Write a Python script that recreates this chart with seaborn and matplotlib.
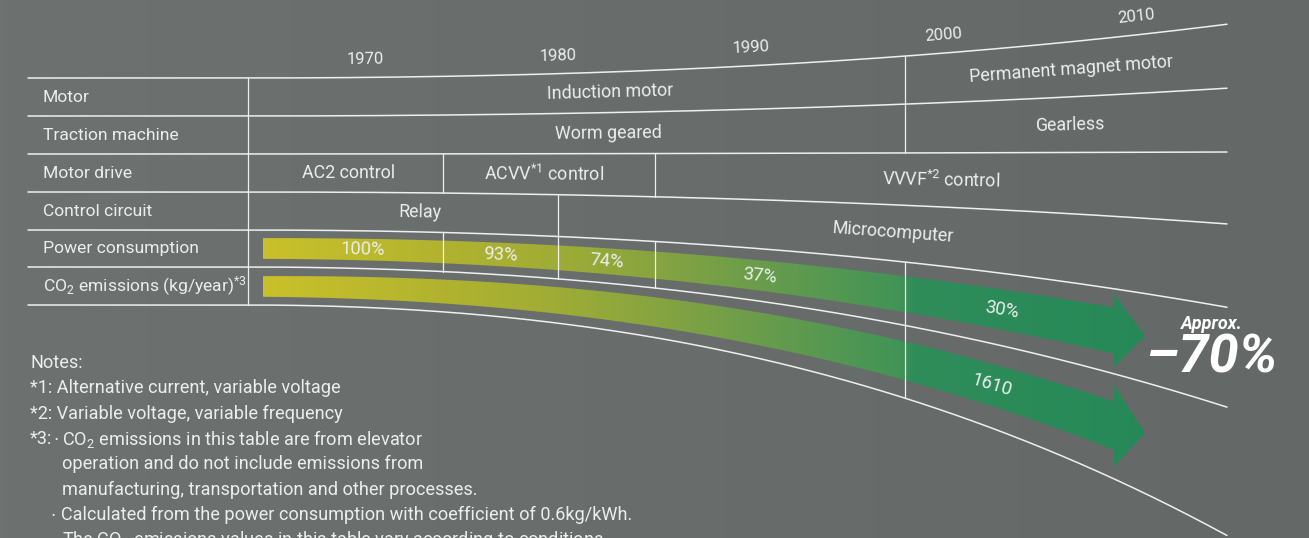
import numpy as np
import matplotlib
matplotlib.use("Agg")
import matplotlib.pyplot as plt
import seaborn as sns
from matplotlib.patches import Polygon
from matplotlib.colors import LinearSegmentedColormap

# ------------------------------------------------------------------ data
years = [1970, 1980, 1990, 2000, 2010]
row_labels = ["Motor", "Traction machine", "Motor drive", "Control circuit",
              "Power consumption",
              r"CO$_{\mathregular{2}}$ emissions (kg/year)$^{\mathregular{*3}}$"]
motor_types = ["Induction motor", "Permanent magnet motor"]
motor_breaks = [1998]
traction_types = ["Worm geared", "Gearless"]
traction_breaks = [1998]
drive_types = ["AC2 control", r"ACVV$^{\mathregular{*1}}$ control",
               r"VVVF$^{\mathregular{*2}}$ control"]
drive_breaks = [1974, 1985]
circuit_types = ["Relay", "Microcomputer"]
circuit_breaks = [1980]
power_breaks = [1974, 1980, 1985, 1998]
power_pct = [100, 93, 74, 37, 30]
co2_final = 1610
reduction_pct = 70
notes = [
    "Notes:",
    "*1: Alternative current, variable voltage",
    "*2: Variable voltage, variable frequency",
    "*3:",
    r"CO$_{\mathregular{2}}$ emissions in this table are from elevator",
    "operation and do not include emissions from",
    "manufacturing, transportation and other processes.",
    "Calculated from the power consumption with coefficient of 0.6kg/kWh.",
    r"The CO$_{\mathregular{2}}$ emissions values in this table vary according to conditions.",
]

# ------------------------------------------------------------------ style
sns.set_theme(style="white")
plt.rcParams["font.family"] = ["Roboto", "DejaVu Sans"]
plt.rcParams["mathtext.fontset"] = "custom"
plt.rcParams["mathtext.rm"] = "Roboto"
plt.rcParams["mathtext.it"] = "Roboto:italic"
plt.rcParams["mathtext.bf"] = "Roboto:bold"

TXT = "#eceeec"
LINE = "#eef0ee"
W, H = 1309, 538
WT = "normal"

fig = plt.figure(figsize=(W / 100, H / 100), dpi=100)
ax = fig.add_axes([0, 0, 1, 1])

# background (slight horizontal gradient)
bg = LinearSegmentedColormap.from_list("bg", ["#6d716f", "#646968"])
ax.imshow(np.linspace(0, 1, 256)[None, :], extent=(0, W, H, 0), cmap=bg,
          aspect="auto", zorder=0)

# ------------------------------------------------------------------ layout helpers
X_1970, PX_PER_YEAR = 365.5, 19.28
def yx(yr):
    return X_1970 + (yr - 1970) * PX_PER_YEAR

LX0, LX1, LXL = 248, 1227, 28

def make_curve(pts, x0, x1):
    pts = np.asarray(pts, float)
    y0 = pts[0, 1]
    t = (pts[1:, 0] - x0) / (x1 - x0)
    A = np.vstack([t ** 2, t ** 3]).T
    coef, *_ = np.linalg.lstsq(A, pts[1:, 1] - y0, rcond=None)
    def f(x):
        tt = np.clip((np.asarray(x, float) - x0) / (x1 - x0), 0, None)
        return y0 + coef[0] * tt ** 2 + coef[1] * tt ** 3
    return f

line_pts = [
    [(248, 78), (443, 75.5), (640, 69.5), (907, 57), (1227, 24)],
    [(248, 116), (640, 110.5), (907, 105), (1227, 88)],
    [(248, 154), (640, 153.5), (907, 153), (1227, 152)],
    [(248, 192), (640, 197), (907, 205), (1227, 224)],
    [(248, 230), (600, 239), (880, 259), (1170, 298), (1227, 307)],
    [(248, 267), (443, 273), (600, 283), (880, 320), (1170, 390), (1227, 407)],
    [(248, 305), (420, 314), (600, 332), (880, 390), (907, 398), (1114, 477), (1227, 537)],
]
L = [make_curve(p, LX0, LX1) for p in line_pts]

def slope_deg(f, x, dx=4.0):
    return -np.degrees(np.arctan((f(x + dx) - f(x - dx)) / (2 * dx)))

# ------------------------------------------------------------------ arrows
AX0, AX1 = 263, 1114
arrow_specs = [
    dict(c=[(263, 248.5), (443, 253), (600, 262), (880, 289.5), (1114, 331)],
         w=[(263, 21), (443, 22), (600, 26), (880, 35), (1114, 46)],
         head_half=36.5, head_len=31, tip_drop=5.5),
    dict(c=[(263, 286.5), (443, 291.5), (600, 306), (880, 354), (1114, 426)],
         w=[(263, 21), (443, 23), (600, 28), (880, 38), (1114, 48)],
         head_half=40.5, head_len=31, tip_drop=7.5),
]
grad = LinearSegmentedColormap.from_list("grad", [
    (0.00, "#c9c12a"), (0.20, "#b1b32f"), (0.335, "#9eac36"), (0.47, "#80a243"),
    (0.60, "#5f9a4f"), (0.715, "#419457"), (0.73, "#2f8d5a"), (1.00, "#258957")])
centers = []
for spec in arrow_specs:
    cf = make_curve(spec["c"], AX0, AX1)
    wp = np.asarray(spec["w"], float)
    wcoef = np.polyfit(wp[:, 0], wp[:, 1], 2)
    xs = np.linspace(AX0, AX1, 300)
    c = cf(xs)
    w = np.polyval(wcoef, xs)
    ce = c[-1]
    top = list(zip(xs, c - w / 2))
    bot = list(zip(xs[::-1], (c + w / 2)[::-1]))
    head = [(AX1, ce - spec["head_half"]), (AX1 + spec["head_len"], ce + spec["tip_drop"]),
            (AX1, ce + spec["head_half"])]
    poly = Polygon(top + head + bot, closed=True, facecolor="none", edgecolor="none")
    ax.add_patch(poly)
    im = ax.imshow(np.linspace(0, 1, 512)[None, :], extent=(AX0, AX1 + 40, 480, 220),
                   cmap=grad, aspect="auto", zorder=2)
    im.set_clip_path(poly)
    centers.append(cf)

# ------------------------------------------------------------------ table lines
xs_full = np.linspace(LXL, LX1, 400)
for f in L:
    sns.lineplot(x=xs_full, y=f(xs_full), ax=ax, color=LINE, linewidth=1.1,
                 sort=False, estimator=None, zorder=4)

def vline(x, top, bot):
    ax.plot([x, x], [L[top](x), L[bot](x)], color=LINE, lw=0.9, zorder=4)

vline(LX0, 0, 6)
for b in motor_breaks:
    vline(yx(b), 0, 2)
for b in drive_breaks:
    vline(yx(b), 2, 3)
for b in circuit_breaks:
    vline(yx(b), 3, 5)
for b in power_breaks:
    if b in circuit_breaks:
        continue
    vline(yx(b), 4, 5 if b < 1990 else 6)

# ------------------------------------------------------------------ texts
FS = 12.6
for i, lab in enumerate(row_labels):
    y = (L[i](LX0) + L[i + 1](LX0)) / 2
    ax.text(43, y, lab, color=TXT, fontsize=FS, ha="left", va="center",
            fontweight=WT, zorder=5)

for yr in years:
    x = yx(yr)
    ax.text(x, L[0](x) - 18, str(yr), color=TXT, fontsize=12, ha="center",
            va="center", rotation=slope_deg(L[0], x), rotation_mode="anchor",
            fontweight=WT, zorder=5)

def row_texts(row, labels, breaks, shifts):
    edges = [LX0] + [yx(b) for b in breaks] + [LX1]
    for k, lab in enumerate(labels):
        x = (edges[k] + edges[k + 1]) / 2 + shifts[k]
        y = (L[row](x) + L[row + 1](x)) / 2
        rot = (slope_deg(L[row], x) + slope_deg(L[row + 1], x)) / 2
        ax.text(x, y, lab, color=TXT, fontsize=FS + 0.3, ha="center", va="center",
                rotation=rot, rotation_mode="anchor", fontweight=WT, zorder=5)

row_texts(0, motor_types, motor_breaks, [33, 5])
row_texts(1, traction_types, traction_breaks, [32, 4])
row_texts(2, drive_types, drive_breaks, [3, -5, 0])
row_texts(3, circuit_types, circuit_breaks, [17, 0])

p_edges = [AX0] + [yx(b) for b in power_breaks] + [AX1]
p_shift = [10, 0, 0, -20, -8]
for k, v in enumerate(power_pct):
    x = (p_edges[k] + p_edges[k + 1]) / 2 + p_shift[k]
    ax.text(x, centers[0](x), f"{v}%", color=TXT, fontsize=FS + 0.6, ha="center",
            va="center", rotation=slope_deg(centers[0], x), rotation_mode="anchor",
            fontweight=WT, zorder=5)

x = (p_edges[-2] + p_edges[-1]) / 2 - 18
ax.text(x, centers[1](x), f"{co2_final}", color=TXT, fontsize=FS + 0.6, ha="center",
        va="center", rotation=slope_deg(centers[1], x), rotation_mode="anchor",
        fontweight=WT, zorder=5)

ax.text(1212, 324, "Approx.", color="white", fontsize=13, fontweight="bold",
        fontstyle="italic", ha="center", va="center", zorder=5)
ax.text(1211, 358, f"\u2013{reduction_pct}%", color="white", fontsize=39,
        fontweight="bold", fontstyle="italic", ha="center", va="center", zorder=5)

NY0, NDY = 363, 25.3
note_x = [30, 30, 30, 30, 62, 62, 62, 61, 62]
note_row = [0, 1, 2, 3, 3, 4, 5, 6, 7]
for line, nx, nr in zip(notes, note_x, note_row):
    ax.text(nx, NY0 + nr * NDY, line, color=TXT, fontsize=13.1, ha="left",
            va="center", fontweight=WT, zorder=5)
for bx, br in [(56, 3), (53, 6)]:
    ax.text(bx, NY0 + br * NDY + 1, "\u2022", color=TXT, fontsize=7, ha="center",
            va="center", zorder=5)

ax.set_xlim(0, W)
ax.set_ylim(H, 0)
ax.axis("off")
fig.savefig("out.png", dpi=100)
